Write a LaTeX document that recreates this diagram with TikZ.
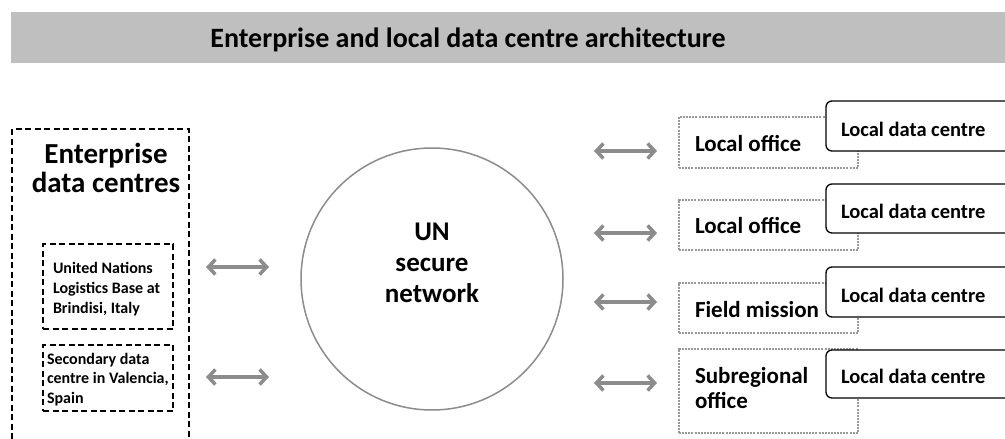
\documentclass[tikz,border=0pt]{standalone}
\usepackage{fontspec}
\setmainfont{Carlito}
\usetikzlibrary{arrows.meta}
\definecolor{barfill}{HTML}{BFBFBF}
\definecolor{linkgray}{HTML}{8C8C8C}
\definecolor{dotgray}{HTML}{999999}
\tikzset{
  box/.style={anchor=north west, inner sep=0pt, outer sep=0pt},
  entbox/.style={box, draw=black, line width=1.8pt, dash pattern=on 6pt off 3.5pt},
  sitebox/.style={box, draw=dotgray, line width=2.2pt, dash pattern=on 2pt off 1.1pt},
  ldcbox/.style={box, draw=black, fill=white, line width=1.3pt, rounded corners=6pt},
  biarrow/.style={draw=linkgray, line width=3.5pt,
    arrows={Straight Barb[length=7pt,width=15pt,line width=3.5pt]-Straight Barb[length=7pt,width=15pt,line width=3.5pt]}},
  lbl/.style={inner sep=0pt, outer sep=0pt, font=\bfseries},
  sitefont/.style={font=\bfseries\fontsize{23}{25}\selectfont},
  ldcfont/.style={font=\bfseries\fontsize{20.5}{24}\selectfont},
}
\begin{document}
\begin{tikzpicture}[x=1pt,y=-1pt]
\useasboundingbox (0,0) rectangle (1005,439);

% heading bar
\node[box, fill=barfill, minimum width=999pt, minimum height=51pt] (bar) at (11,12) {};
\node[lbl, anchor=base, font=\bfseries\fontsize{28}{30}\selectfont] (title) at (468,47.5)
  {Enterprise and local data centre architecture};

% enterprise data centres (multi-line labels are anchored at the last baseline)
\node[entbox, minimum width=177pt, minimum height=330pt] (ent) at (12,129) {};
\node[lbl, anchor=base, align=center, font=\bfseries\fontsize{29}{29}\selectfont] (entlbl) at (106,192)
  {Enterprise\\data centres};

\node[entbox, minimum width=130pt, minimum height=85pt] (brindisi) at (43,244) {};
\node[lbl, anchor=base west, align=left, font=\bfseries\fontsize{16}{20}\selectfont] (brindisilbl) at (53,313)
  {United Nations\\Logistics Base at\\Brindisi, Italy};

\node[entbox, minimum width=130pt, minimum height=66pt] (valencia) at (43,345) {};
\node[lbl, anchor=base west, align=left, font=\bfseries\fontsize{16}{19.5}\selectfont] (valencialbl) at (47,403)
  {Secondary data\\centre in Valencia,\\Spain};

% network
\node[circle, draw=linkgray, line width=1.5pt, minimum size=262pt, inner sep=0pt] (net) at (432,279) {};
\node[lbl, anchor=base, align=center, font=\bfseries\fontsize{27}{31}\selectfont] (netlbl) at (432,302)
  {UN\\secure\\network};

% links to enterprise data centres
\coordinate (a1l) at (206,267); \coordinate (a1r) at (269,267);
\coordinate (a2l) at (206,377); \coordinate (a2r) at (269,377);
\draw[biarrow] (a1l) -- (a1r);
\draw[biarrow] (a2l) -- (a2r);

% sites
\node[sitebox, minimum width=179pt, minimum height=51pt] (site1) at (679,117) {};
\node[sitebox, minimum width=179pt, minimum height=50pt] (site2) at (679,200) {};
\node[sitebox, minimum width=179pt, minimum height=50pt] (site3) at (679,283) {};
\node[sitebox, minimum width=179pt, minimum height=84pt] (site4) at (679,349) {};

\node[ldcbox, minimum width=200pt, minimum height=50pt] (ldc1) at (826,101) {};
\node[ldcbox, minimum width=200pt, minimum height=49pt] (ldc2) at (826,184) {};
\node[ldcbox, minimum width=200pt, minimum height=50pt] (ldc3) at (826,267) {};
\node[ldcbox, minimum width=200pt, minimum height=48pt] (ldc4) at (826,350) {};

\node[lbl, sitefont, anchor=base west] (site1lbl) at (695,151) {Local office};
\node[lbl, sitefont, anchor=base west] (site2lbl) at (695,233) {Local office};
\node[lbl, sitefont, anchor=base west] (site3lbl) at (695,317) {Field mission};
\node[lbl, sitefont, anchor=base west, align=left] (site4lbl) at (695,408) {Subregional\\office};

\node[lbl, ldcfont, anchor=base west] (ldc1lbl) at (841,136) {Local data centre};
\node[lbl, ldcfont, anchor=base west] (ldc2lbl) at (841,218) {Local data centre};
\node[lbl, ldcfont, anchor=base west] (ldc3lbl) at (841,302) {Local data centre};
\node[lbl, ldcfont, anchor=base west] (ldc4lbl) at (841,383) {Local data centre};

% links to sites
\coordinate (b1l) at (594,151); \coordinate (b1r) at (657,151);
\coordinate (b2l) at (594,233); \coordinate (b2r) at (657,233);
\coordinate (b3l) at (594,302); \coordinate (b3r) at (657,302);
\coordinate (b4l) at (594,383); \coordinate (b4r) at (657,383);
\draw[biarrow] (b1l) -- (b1r);
\draw[biarrow] (b2l) -- (b2r);
\draw[biarrow] (b3l) -- (b3r);
\draw[biarrow] (b4l) -- (b4r);
\end{tikzpicture}
\end{document}
